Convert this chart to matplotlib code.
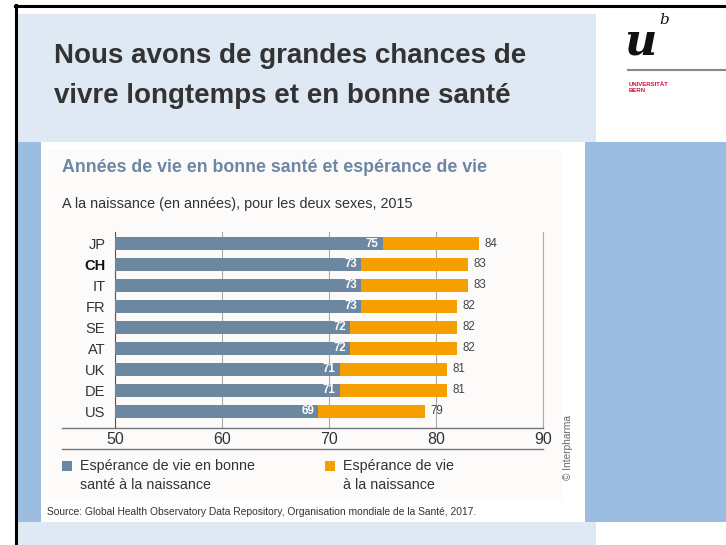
import matplotlib
matplotlib.use('Agg')
import matplotlib.pyplot as plt
from matplotlib.patches import Rectangle
from matplotlib.lines import Line2D
import numpy as np

plt.rcParams['font.family'] = ['Liberation Sans', 'DejaVu Sans']

countries = ['JP', 'CH', 'IT', 'FR', 'SE', 'AT', 'UK', 'DE', 'US']
healthy = [75, 73, 73, 73, 72, 72, 71, 71, 69]
total = [84, 83, 83, 82, 82, 82, 81, 81, 79]
xticks = [50, 60, 70, 80, 90]

grey = '#6c87a0'
orange = '#f5a000'
W, H = 726, 545

fig = plt.figure(figsize=(W / 100, H / 100), dpi=100)


# helper: rectangle in pixel coords (top-left origin)
def box(x, y, w, h, color, z=0):
    fig.add_artist(Rectangle((x / W, 1 - (y + h) / H), w / W, h / H,
                             transform=fig.transFigure, facecolor=color,
                             edgecolor='none', zorder=z))


def hline(x0, x1, y, color, lw):
    fig.add_artist(Line2D([x0 / W, x1 / W], [1 - y / H, 1 - y / H],
                          transform=fig.transFigure, color=color, lw=lw))


def txt(x, y, s, **kw):
    fig.text(x / W, 1 - y / H, s, **kw)


# slide background
box(17, 14, 579, 128, '#dfe9f4')
box(17, 142, 709, 380, '#9bbde0')
box(17, 522, 579, 23, '#dfe9f4')
box(41, 142, 544, 380, 'white')
box(48, 150, 514, 350, '#fdfafa')
# black frame
hline(15, 726, 6, 'black', 2.2)
fig.add_artist(Line2D([16 / W, 16 / W], [0, 1 - 5 / H], transform=fig.transFigure,
                      color='black', lw=2.2))

txt(54, 56, 'Nous avons de grandes chances de', fontsize=20, fontweight='bold',
    color='#333333', va='center')
txt(54, 96, 'vivre longtemps et en bonne santé', fontsize=20, fontweight='bold',
    color='#333333', va='center')

# logo
txt(624, 42, 'u', fontsize=32, fontweight='bold', style='italic', family='DejaVu Serif',
    color='#111111', va='center')
txt(659, 20, 'b', fontsize=11, style='italic', family='DejaVu Serif', color='#111111', va='center')
hline(628, 726, 70, '#888888', 1.5)
txt(629, 84, 'UNIVERSITÄT', fontsize=4.3, fontweight='bold', color='#d0103a', va='center')
txt(629, 90, 'BERN', fontsize=4.3, fontweight='bold', color='#d0103a', va='center')

# chart texts
txt(62, 168, 'Années de vie en bonne santé et espérance de vie', fontsize=12.8,
    fontweight='bold', color='#6b87a3', va='center')
txt(62, 204, 'A la naissance (en années), pour les deux sexes, 2015', fontsize=10.4,
    color='#333333', va='center')

ax = fig.add_axes([115 / W, 1 - 428 / H, 428 / W, 196 / H])
ax.set_facecolor('none')
y = np.arange(len(countries))
ax.barh(y, total, height=0.62, color=orange, zorder=2)
ax.barh(y, healthy, height=0.62, color=grey, zorder=3)
for i in range(len(countries)):
    ax.text(healthy[i] - 0.4, y[i], str(healthy[i]), ha='right', va='center',
            fontsize=8.3, fontweight='bold', color='white', zorder=4)
    ax.text(total[i] + 0.5, y[i], str(total[i]), ha='left', va='center',
            fontsize=8.3, color='#444444', zorder=4)

ax.set_xlim(50, 90)
ax.set_ylim(8.8, -0.55)
ax.set_xticks(xticks)
ax.set_xticklabels([str(t) for t in xticks], fontsize=11.5, color='#333333')
ax.set_yticks(y)
ax.set_yticklabels(countries, fontsize=10.5, color='#333333')
ax.get_yticklabels()[1].set_fontweight('bold')
ax.get_yticklabels()[1].set_color('#111111')
ax.tick_params(length=0, pad=3)
ax.tick_params(axis='y', pad=7)
ax.grid(axis='x', color='#aaaaaa', lw=0.8, zorder=1)
ax.spines['top'].set_visible(False)
ax.spines['left'].set_color('#555555')
ax.spines['right'].set_color('#aaaaaa')
ax.spines['bottom'].set_visible(False)
hline(62, 543, 428, '#777777', 1.0)
hline(62, 543, 449, '#777777', 1.0)

# legend
box(62, 461, 10, 10, grey)
txt(80, 466, 'Espérance de vie en bonne', fontsize=10.3, color='#333333', va='center')
txt(80, 485, 'santé à la naissance', fontsize=10.3, color='#333333', va='center')
box(325, 461, 10, 10, orange)
txt(343, 466, 'Espérance de vie', fontsize=10.3, color='#333333', va='center')
txt(343, 485, 'à la naissance', fontsize=10.3, color='#333333', va='center')

txt(47, 512, 'Source: Global Health Observatory Data Repository, Organisation mondiale de la Santé, 2017.',
    fontsize=7.4, color='#333333', va='center')
txt(568, 448, '© Interpharma', fontsize=7.3, color='#666666', rotation=90, ha='center', va='center')

fig.savefig('out.png', dpi=100)
